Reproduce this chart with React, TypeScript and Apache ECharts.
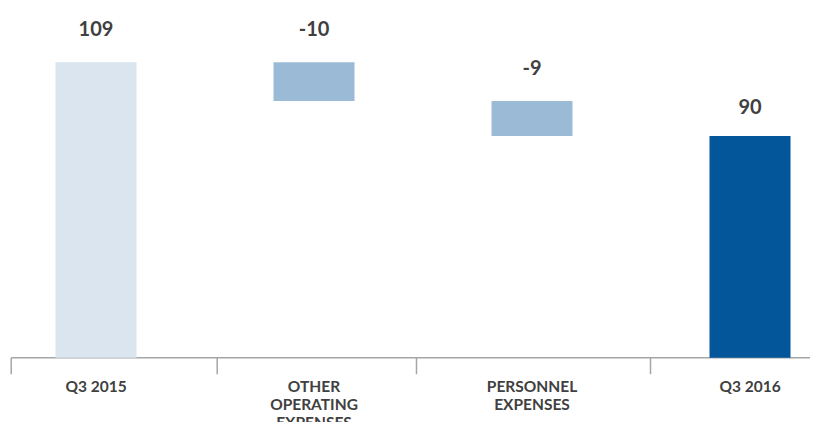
import React, { useEffect, useRef } from "react";
import * as echarts from "echarts";

const categories = ["Q3 2015", "OTHER\nOPERATING\nEXPENSES", "PERSONNEL\nEXPENSES", "Q3 2016"];
const baseValues = [0, 99, 90, 0];
const barValues = [109, 10, 9, 90];
const labelTexts = ["109", "-10", "-9", "90"];
const barColors = ["#dae5ef", "#9bbad6", "#9bbad6", "#03569a"];
const labelDistances = [24, 24, 24, 20];
const tickXs = [10.7, 216.7, 416, 650];

const SHIFT = 13.5;
const CHART_W = 872;
const Y_MIN = 33;

export default function App() {
  const ref = useRef<HTMLDivElement>(null);
  useEffect(() => {
    if (!ref.current) return;
    const chart = echarts.init(ref.current, null, { renderer: "svg" });
    const font = "Lato, 'Open Sans', sans-serif";
    chart.setOption({
      animation: false,
      textStyle: { fontFamily: font },
      grid: {
        left: 0,
        right: 0,
        top: 0,
        bottom: 72.3,
        containLabel: false,
        outerBoundsMode: "none",
      },
      xAxis: {
        type: "category",
        data: categories,
        axisLine: { show: false },
        axisTick: { show: false },
        axisLabel: {
          interval: 0,
          margin: 19,
          fontFamily: font,
          fontWeight: "bold",
          fontSize: 15.5,
          lineHeight: 18,
          color: "#404040",
        },
      },
      yAxis: {
        type: "value",
        min: Y_MIN,
        max: 125,
        show: false,
        splitLine: { show: false },
      },
      series: [
        {
          type: "bar",
          stack: "w",
          data: baseValues,
          barWidth: 81,
          itemStyle: { color: "transparent" },
          silent: true,
        },
        {
          type: "bar",
          stack: "w",
          barWidth: 81,
          data: barValues.map((v, i) => ({
            value: v,
            itemStyle: { color: barColors[i] },
            label: { distance: labelDistances[i] },
          })),
          label: {
            show: true,
            position: "top",
            formatter: (p: any) => labelTexts[p.dataIndex],
            fontFamily: font,
            fontWeight: "bold",
            fontSize: 20,
            color: "#404040",
          },
        },
      ],
    });
    const axisY = chart.convertToPixel({ yAxisIndex: 0 }, Y_MIN) as number;
    chart.setOption({
      graphic: [
        {
          type: "line",
          shape: { x1: 10.7 + SHIFT, y1: axisY, x2: 818 + SHIFT, y2: axisY },
          style: { stroke: "#a6a6a6", lineWidth: 1.5 },
        },
        ...tickXs.map((x) => ({
          type: "line",
          shape: { x1: x + SHIFT, y1: axisY, x2: x + SHIFT, y2: axisY + 16.5 },
          style: { stroke: "#a6a6a6", lineWidth: 1.5 },
        })),
      ],
    });
    return () => chart.dispose();
  }, []);
  return (
    <div style={{ width: 818, height: 430, margin: -8, overflow: "hidden", position: "relative" }}>
      <div ref={ref} style={{ width: CHART_W, height: 430, marginLeft: -SHIFT }} />
    </div>
  );
}
